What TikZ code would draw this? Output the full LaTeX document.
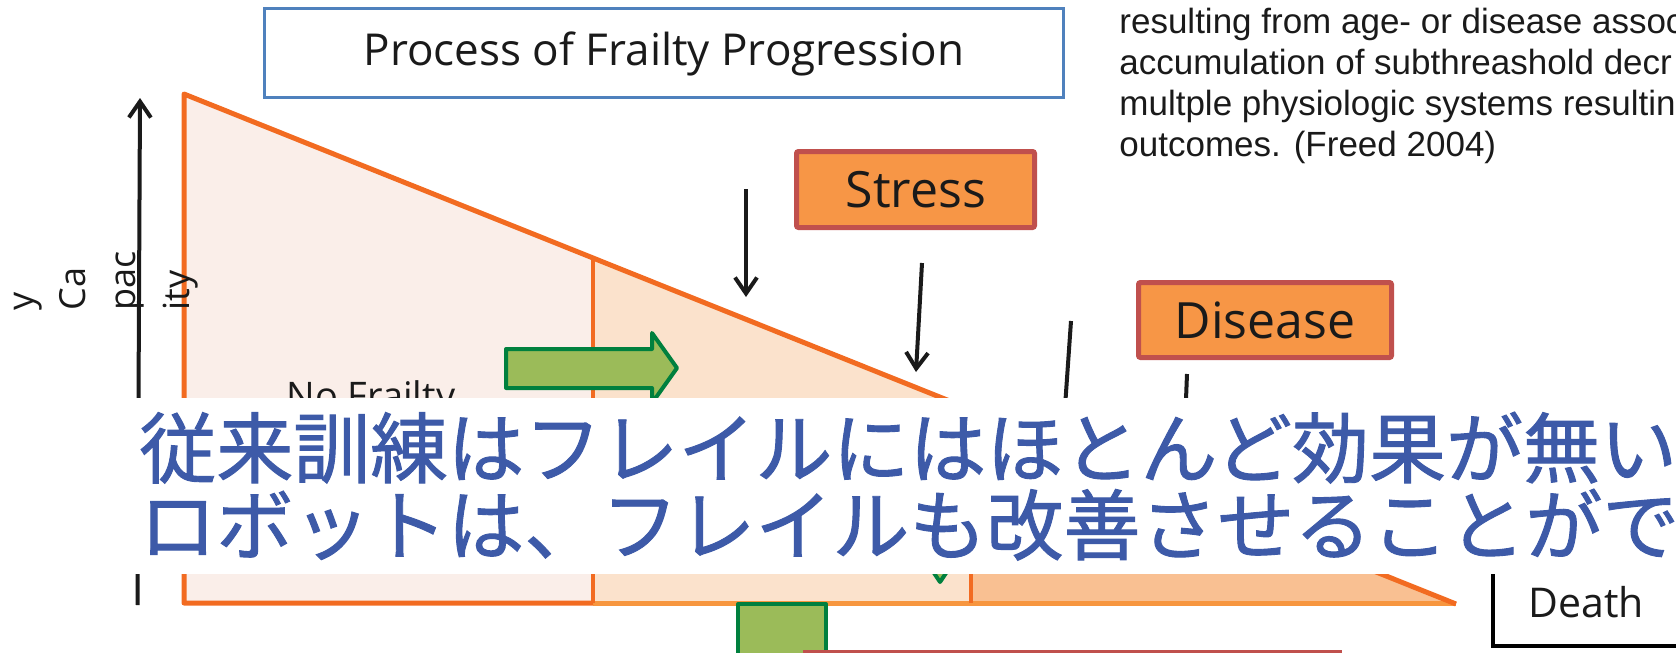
\documentclass[tikz,border=0pt]{standalone}
\usepackage{fontspec}
\setmainfont{Liberation Sans}
\newfontfamily\osans{Open Sans}
\newfontfamily\jpfont[FakeBold=1.2]{Noto Sans CJK JP}
\usetikzlibrary{arrows.meta}
\definecolor{titleblue}{HTML}{4F81BD}
\definecolor{boxred}{HTML}{C0504D}
\definecolor{boxorange}{HTML}{F79646}
\definecolor{gdark}{HTML}{00803E}
\definecolor{gfill}{HTML}{9BBB59}
\definecolor{frameor}{HTML}{F26B21}
\definecolor{lightor}{HTML}{F7963F}
\definecolor{fillone}{HTML}{FAEEE9}
\definecolor{filltwo}{HTML}{FBE2CC}
\definecolor{fillthree}{HTML}{F9C092}
\definecolor{jpblue}{HTML}{3D5AA8}
\definecolor{txtblack}{HTML}{1A1A1A}
\begin{document}
\begin{tikzpicture}[x=0.5pt,y=-0.5pt,
  blackarrow/.style={draw=txtblack, line width=2pt, -{Straight Barb[length=8pt,width=11pt]}},
  orangebox/.style={draw=boxred, fill=boxorange, line width=2.5pt, rounded corners=1pt, inner sep=0pt},
  greenshape/.style={draw=gdark, fill=gfill, line width=2pt, line join=round},
  lbl/.style={text=txtblack, inner sep=0pt},
  boxfont/.style={font=\osans\fontsize{25pt}{30pt}\selectfont},
  deffont/.style={font=\fontsize{17.5pt}{20.5pt}\selectfont},
  axfont/.style={font=\osans\fontsize{18pt}{20pt}\selectfont},
  jpline/.style={font=\jpfont\fontsize{38.5pt}{38.5pt}\selectfont, text=jpblue, inner sep=0pt, anchor=base west}
]
\useasboundingbox (0,0) rectangle (1676,653);
\clip (0,0) rectangle (1676,653);

% capacity regions
\fill[fillone] (184,94) -- (593,258) -- (593,603) -- (184,603) -- cycle;
\fill[filltwo] (593,258) -- (971,410) -- (971,603) -- (593,603) -- cycle;
\fill[fillthree] (971,410) -- (1456,604) -- (971,604) -- cycle;
\draw[lightor, line width=2.5pt] (593,603) -- (1456,603);
\draw[frameor, line width=2pt] (593,258) -- (593,603);
\draw[frameor, line width=2pt] (971,410) -- (971,603);
\draw[frameor, line width=2.5pt, line join=round] (593,603) -- (184,603) -- (184,94) -- (1456,604);

% green arrows
\draw[greenshape] (506,349) -- (652,349) -- (652,333) -- (677,368) -- (652,403) -- (652,388) -- (506,388) -- cycle;
\draw[greenshape] (738,604) rectangle (826,720);
\draw[greenshape] (922,555) -- (958,555) -- (940,582) -- cycle;

% black arrows
\coordinate (a1s) at (746,189); \coordinate (a1e) at (746,297);
\coordinate (a2s) at (922,263); \coordinate (a2e) at (916,372);
\coordinate (a3s) at (1071,321); \coordinate (a3e) at (1062,450);
\coordinate (a4s) at (1187,374); \coordinate (a4e) at (1184,450);
\draw[blackarrow] (a1s) -- (a1e);
\draw[blackarrow] (a2s) -- (a2e);
\draw[blackarrow] (a3s) -- (a3e);
\draw[blackarrow] (a4s) -- (a4e);

% axis
\coordinate (axbot) at (137.5,605); \coordinate (axtop) at (140,98);
\draw[txtblack, line width=2pt, -{Straight Barb[length=8pt,width=11pt]}] (axbot) -- (axtop);
\node[lbl, axfont, rotate=90, anchor=base west] (laby) at (33,311) {y};
\node[lbl, axfont, rotate=90, anchor=base west] (labca) at (85,311) {Ca};
\node[lbl, axfont, rotate=90, anchor=base west] (labpac) at (135,311) {pac};
\node[lbl, axfont, rotate=90, anchor=base west] (labity) at (189,311) {ity};

% title
\node[draw=titleblue, line width=1.5pt, minimum width=399.5pt, minimum height=44.5pt, inner sep=0pt] (titlebox) at (664,53) {};
\node[lbl, font=\osans\fontsize{22pt}{26pt}\selectfont, anchor=base] (title) at (664,65) {Process of Frailty Progression};

% stress / disease
\node[orangebox, minimum width=119pt, minimum height=38pt] (stressbox) at (915.5,189.5) {};
\node[lbl, boxfont, anchor=base] (stress) at (916,207) {Stress};
\node[orangebox, minimum width=126.5pt, minimum height=37.5pt] (diseasebox) at (1265,320) {};
\node[lbl, boxfont, anchor=base] (disease) at (1265,338) {Disease};

% no frailty
\node[lbl, font=\osans\fontsize{19pt}{22pt}\selectfont, anchor=base west] (nofrailty) at (286,409) {No Frailty};

% definition text
\node[lbl, deffont, anchor=base west] (def1) at (1119,33) {resulting from age- or disease assoc};
\node[lbl, deffont, anchor=base west] (def2) at (1119,74) {accumulation of subthreashold decr};
\node[lbl, deffont, anchor=base west] (def3) at (1119,115) {multple physiologic systems resultin};
\node[lbl, deffont, anchor=base west] (def4) at (1119,156) {outcomes. (Freed 2004)};

% death box
\node[draw=black, line width=2pt, minimum width=130pt, minimum height=80pt, anchor=south west, inner sep=0pt] (deathbox) at (1491,648) {};
\node[lbl, font=\osans\fontsize{20.5pt}{24pt}\selectfont, anchor=base west] (death) at (1528,617) {Death};

% bottom box
\node[draw=boxred, fill=white, line width=2pt, minimum width=267.5pt, minimum height=40pt, anchor=north west, inner sep=0pt] (bottombox) at (803,650) {};

% caption band
\node[fill=white, minimum width=790pt, minimum height=88pt, anchor=north west, inner sep=0pt] (band) at (130,398) {};
\node[jpline] (jp1) at (139,477) {従来訓練はフレイルにはほとんど効果が無い};
\node[jpline] (jp2) at (139,554) {ロボットは、フレイルも改善させることがで};
\end{tikzpicture}
\end{document}
